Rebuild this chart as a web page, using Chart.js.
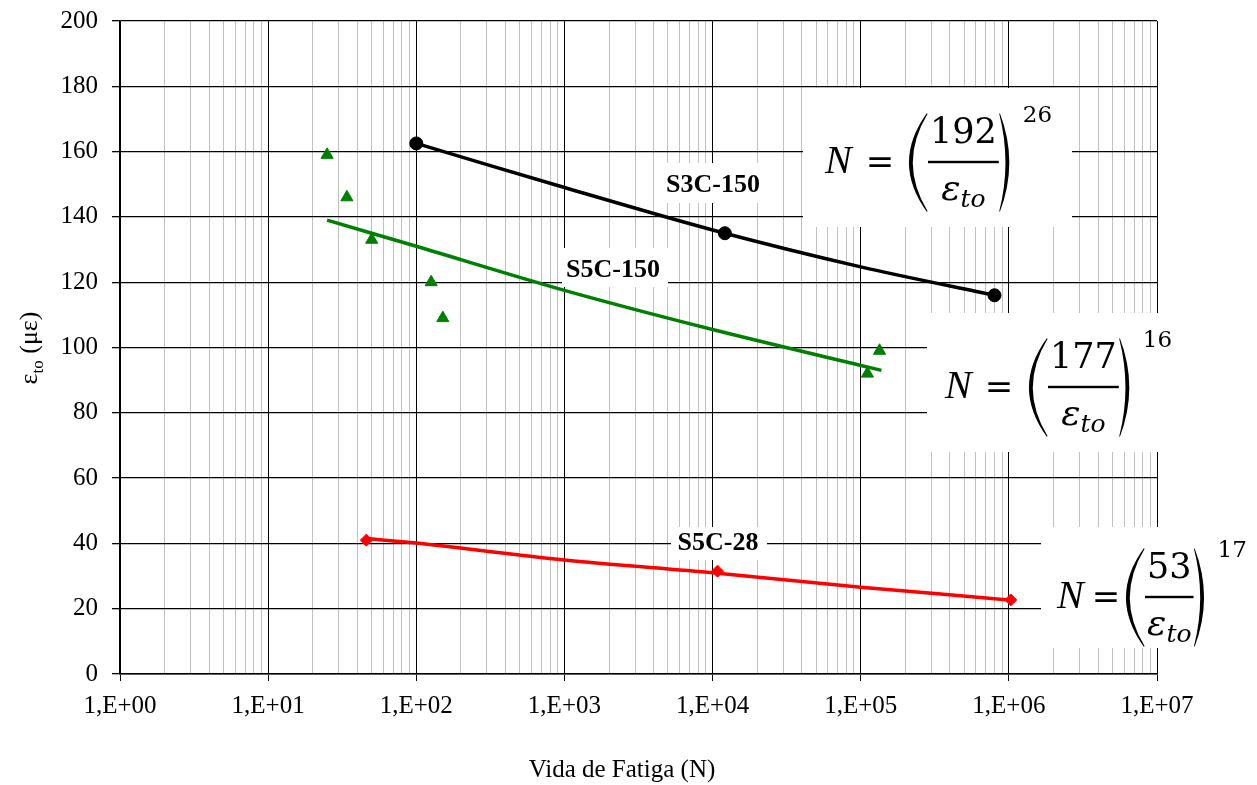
<!DOCTYPE html>
<html>
<head>
<meta charset="utf-8">
<script src="https://cdn.jsdelivr.net/npm/chart.js@4/dist/chart.umd.min.js"></script>
<style>
  html, body { margin: 0; padding: 0; background: #fff; }
  #wrap { width: 1257px; height: 785px; }
</style>
</head>
<body>
<div id="wrap"><canvas id="fadiga" width="1257" height="785"></canvas></div>
<script>
// ── DATA ─────────────────────────────────────────────────────────────────
const decades      = [1, 10, 100, 1000, 10000, 100000, 1000000, 10000000];
const xTickLabels  = ['1,E+00', '1,E+01', '1,E+02', '1,E+03', '1,E+04', '1,E+05', '1,E+06', '1,E+07'];
const minorSteps   = [2, 3, 4, 5, 6, 7, 8, 9];

// S3C-150 (black): fitted curve + measured points
const s3cCurveN = [100, 1000, 10000, 100000, 800000];
const s3cCurveE = [162.5, 149, 136, 124.7, 116];
const s3cPtsN   = [100, 12100, 800000];
const s3cPtsE   = [162.5, 135, 116];

// S5C-150 (green)
const s5c150CurveN = [25, 100, 1000, 10000, 100000, 138000];
const s5c150CurveE = [139, 131, 117.5, 105.5, 94.5, 93];
const s5c150PtsN   = [25, 34, 50, 126, 151, 111000, 134000];
const s5c150PtsE   = [159, 146, 133, 120, 109, 92, 99];

// S5C-28 (red)
const s5c28CurveN = [46, 100, 1000, 10000, 100000, 1000000];
const s5c28CurveE = [41.5, 40.1, 34.9, 31, 26.6, 22.7];
const s5c28PtsN   = [46, 10800, 1030000];
const s5c28PtsE   = [41, 31.5, 22.7];

// model equations N = (a / eps_to)^b
const eqNum = ['192', '177', '53'];
const eqExp = ['26', '16', '17'];
const seriesNames = ['S3C-150', 'S5C-150', 'S5C-28'];

const pts = (xs, ys) => xs.map((x, i) => ({ x, y: ys[i] }));

// ── HELPERS ──────────────────────────────────────────────────────────────
function drawParen(ctx, x, top, bot, w, left) {
  const mid = (top + bot) / 2;
  const t = 3.6;
  ctx.beginPath();
  if (left) {
    ctx.moveTo(x + w, top);
    ctx.quadraticCurveTo(x - w * 0.9, mid, x + w, bot);
    ctx.lineTo(x + w + 0.5, bot - 1);
    ctx.quadraticCurveTo(x - w * 0.9 + t * 2, mid, x + w + 0.5, top + 1);
  } else {
    ctx.moveTo(x, top);
    ctx.quadraticCurveTo(x + w * 1.9, mid, x, bot);
    ctx.lineTo(x - 0.5, bot - 1);
    ctx.quadraticCurveTo(x + w * 1.9 - t * 2, mid, x - 0.5, top + 1);
  }
  ctx.closePath();
  ctx.fill();
}

function drawEquation(ctx, x0, yBar, eqX, parenL, num, exp) {
  ctx.save();
  ctx.fillStyle = '#000';
  ctx.textBaseline = 'alphabetic';
  ctx.textAlign = 'left';
  ctx.font = 'italic 40px "Liberation Serif"';
  ctx.fillText('N', x0, yBar + 11);
  ctx.font = '34px "DejaVu Serif"';
  ctx.textAlign = 'center';
  ctx.fillText('=', eqX, yBar + 11);

  ctx.textAlign = 'left';
  ctx.font = '35px "DejaVu Serif"';
  const numW = ctx.measureText(num).width;
  ctx.font = 'italic 36px "DejaVu Serif"';
  const epsW = ctx.measureText('ε').width;
  ctx.font = 'italic 25px "DejaVu Serif"';
  const toW = ctx.measureText('to').width;
  const denW = epsW + toW;
  const barW = Math.max(numW, denW) + 4;
  const bx = parenL + 20;

  // numerator
  ctx.font = '35px "DejaVu Serif"';
  ctx.fillText(num, bx + (barW - numW) / 2, yBar - 19);
  // bar
  ctx.fillRect(bx, yBar - 1.2, barW, 2.4);
  // denominator
  const dx = bx + (barW - denW) / 2;
  ctx.font = 'italic 36px "DejaVu Serif"';
  ctx.fillText('ε', dx, yBar + 38);
  ctx.font = 'italic 25px "DejaVu Serif"';
  ctx.fillText('to', dx + epsW, yBar + 45);

  // parentheses
  drawParen(ctx, parenL, yBar - 49, yBar + 50, 19, true);
  const pr = bx + barW + 1;
  drawParen(ctx, pr, yBar - 49, yBar + 50, 10, false);

  // exponent
  ctx.font = '23px "DejaVu Serif"';
  ctx.fillText(exp, pr + 23, yBar - 40);
  ctx.restore();
}

function labelBox(ctx, text, bx, by, bw, bh, cx, base) {
  ctx.save();
  ctx.fillStyle = '#fff';
  ctx.fillRect(bx, by, bw, bh);
  ctx.fillStyle = '#000';
  ctx.font = 'bold 26px "Liberation Serif"';
  ctx.textAlign = 'center';
  ctx.textBaseline = 'alphabetic';
  ctx.fillText(text, cx, base);
  ctx.restore();
}

const annotations = {
  id: 'annotations',
  afterDatasetsDraw(chart) {
    const ctx = chart.ctx;
    ctx.save();
    // white boxes behind equations
    ctx.fillStyle = '#fff';
    ctx.fillRect(803, 88, 269, 139);
    ctx.fillRect(927, 313, 248, 139);
    ctx.fillRect(1041, 527, 212, 121);
    ctx.restore();

    drawEquation(ctx, 825, 162, 880, 908, eqNum[0], eqExp[0]);
    drawEquation(ctx, 945, 387, 999, 1028, eqNum[1], eqExp[1]);
    drawEquation(ctx, 1057, 597, 1106, 1125, eqNum[2], eqExp[2]);

    labelBox(ctx, seriesNames[0], 658, 163, 110, 40, 713, 192);
    labelBox(ctx, seriesNames[1], 562, 248, 106, 39, 613, 277);
    labelBox(ctx, seriesNames[2], 671, 527, 96, 33, 718, 550);

    // axis titles
    ctx.save();
    ctx.fillStyle = '#000';
    ctx.font = '25px "Liberation Serif"';
    ctx.textAlign = 'center';
    ctx.fillText('Vida de Fatiga (N)', 622, 777);

    ctx.translate(37, 348);
    ctx.rotate(-Math.PI / 2);
    ctx.textAlign = 'left';
    ctx.font = '26px "Liberation Serif"';
    const wE = ctx.measureText('ε').width;
    const wR = ctx.measureText(' (με)').width;
    ctx.font = '17px "Liberation Serif"';
    const wT = ctx.measureText('to').width;
    let x = -(wE + wT + wR) / 2;
    ctx.font = '26px "Liberation Serif"';
    ctx.fillText('ε', x, 0);
    ctx.font = '17px "Liberation Serif"';
    ctx.fillText('to', x + wE, 6);
    ctx.font = '26px "Liberation Serif"';
    ctx.fillText(' (με)', x + wE + wT, 0);
    ctx.restore();
  },
};

// ── CHART ────────────────────────────────────────────────────────────────
const isDecade = v => decades.includes(v);
const logTicks = [];
decades.forEach((d, i) => {
  logTicks.push(d);
  if (i < decades.length - 1) minorSteps.forEach(m => logTicks.push(d * m));
});

new Chart(document.getElementById('fadiga'), {
  type: 'scatter',
  data: {
    datasets: [
      {
        label: 'S3C-150 fit', data: pts(s3cCurveN, s3cCurveE), showLine: true,
        borderColor: '#000', borderWidth: 3.5, pointRadius: 0, tension: 0.3,
      },
      {
        label: 'S5C-150 fit', data: pts(s5c150CurveN, s5c150CurveE), showLine: true,
        borderColor: '#008000', borderWidth: 3.5, pointRadius: 0, tension: 0.3,
      },
      {
        label: 'S5C-28 fit', data: pts(s5c28CurveN, s5c28CurveE), showLine: true,
        borderColor: '#ff0000', borderWidth: 3.5, pointRadius: 0, tension: 0.3,
      },
      {
        label: 'S3C-150', data: pts(s3cPtsN, s3cPtsE), showLine: false,
        pointStyle: 'circle', pointRadius: 6.5, backgroundColor: '#000', borderColor: '#000',
      },
      {
        label: 'S5C-150', data: pts(s5c150PtsN, s5c150PtsE), showLine: false,
        pointStyle: 'triangle', pointRadius: 7, backgroundColor: '#008000', borderColor: '#008000',
      },
      {
        label: 'S5C-28', data: pts(s5c28PtsN, s5c28PtsE), showLine: false,
        pointStyle: 'rectRot', pointRadius: 6, backgroundColor: '#ff0000', borderColor: '#ff0000',
      },
    ],
  },
  options: {
    responsive: false,
    animation: false,
    devicePixelRatio: 1,
    layout: { padding: { top: 21, right: 100, bottom: 0, left: 0 } },
    plugins: { legend: { display: false }, tooltip: { enabled: false } },
    scales: {
      x: {
        type: 'logarithmic',
        min: 1, max: 10000000,
        afterBuildTicks: s => { s.ticks = logTicks.map(v => ({ value: v, major: isDecade(v) })); },
        afterFit: s => { s.height = 111; },
        ticks: {
          autoSkip: false, maxRotation: 0, padding: 10,
          color: '#000', font: { family: 'Liberation Serif', size: 25 },
          callback: v => { const i = decades.indexOf(v); return i >= 0 ? xTickLabels[i] : ''; },
        },
        grid: {
          color: c => (c.tick && isDecade(c.tick.value)) ? '#000' : '#c0c0c0',
          tickColor: c => (c.tick && isDecade(c.tick.value)) ? '#000' : 'rgba(0,0,0,0)',
          lineWidth: 1,
          tickLength: 7,
        },
        border: { color: '#000', width: 1.6 },
      },
      y: {
        min: 0, max: 200,
        afterFit: s => { s.width = 120; s.paddingTop = 0; s.paddingBottom = 0; },
        ticks: {
          stepSize: 20, padding: 14, color: '#000',
          font: { family: 'Liberation Serif', size: 25 },
        },
        grid: { color: '#000', lineWidth: 1.3, tickLength: 8, tickColor: '#000' },
        border: { color: '#000', width: 1.6 },
      },
    },
  },
  plugins: [annotations],
});
</script>
</body>
</html>
